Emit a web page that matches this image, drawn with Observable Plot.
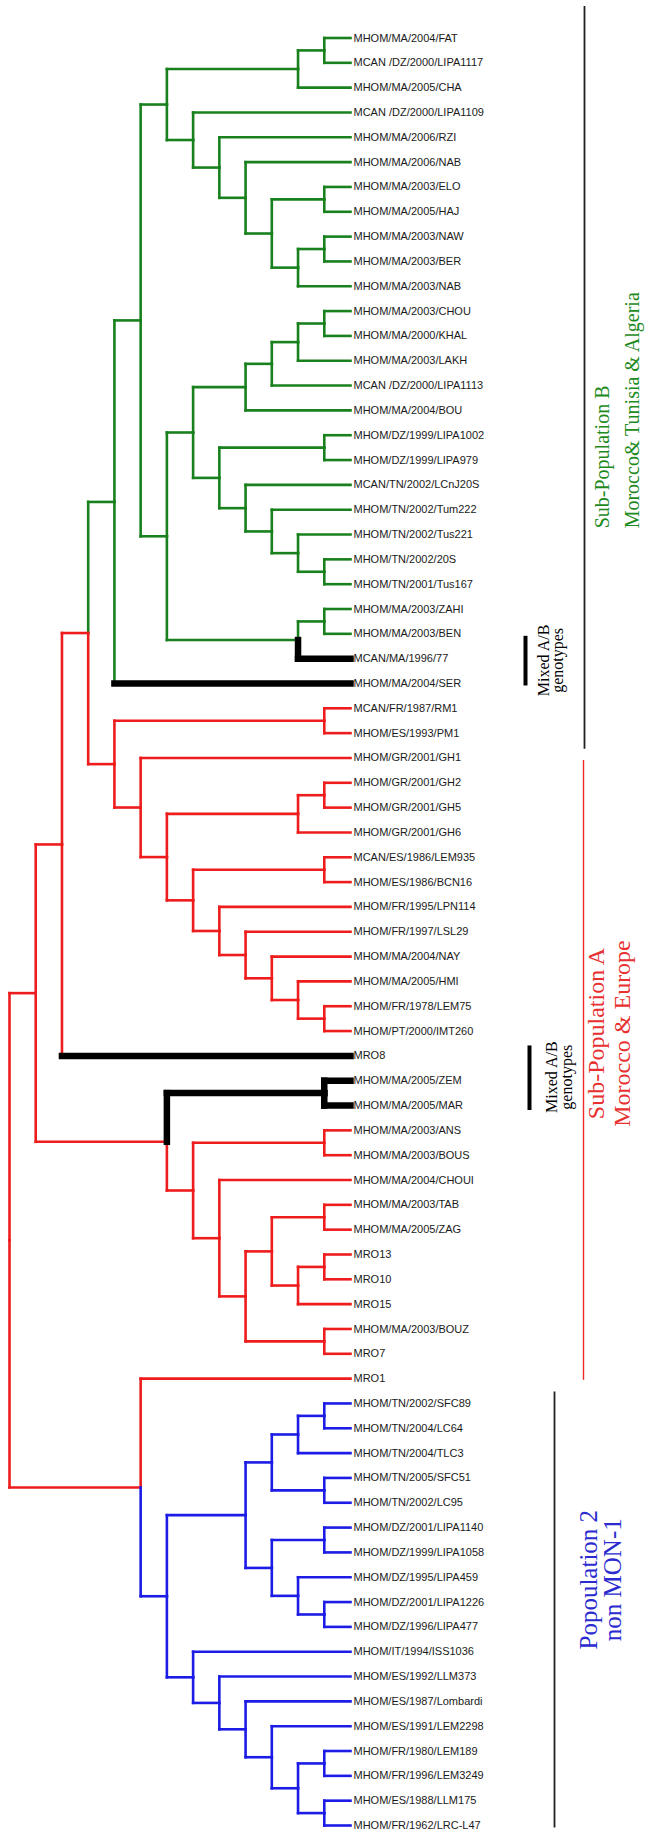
<!DOCTYPE html>
<html><head><meta charset="utf-8">
<script src="https://cdn.jsdelivr.net/npm/d3@7"></script>
<script src="https://cdn.jsdelivr.net/npm/@observablehq/plot@0.6"></script>
<style>html,body{margin:0;padding:0;background:#fff;overflow:hidden}</style>
</head><body><div id="chart"></div>
<script>
// Leaf labels, top to bottom
const labels = [
 "MHOM/MA/2004/FAT","MCAN /DZ/2000/LIPA1117","MHOM/MA/2005/CHA","MCAN /DZ/2000/LIPA1109","MHOM/MA/2006/RZI",
 "MHOM/MA/2006/NAB","MHOM/MA/2003/ELO","MHOM/MA/2005/HAJ","MHOM/MA/2003/NAW","MHOM/MA/2003/BER",
 "MHOM/MA/2003/NAB","MHOM/MA/2003/CHOU","MHOM/MA/2000/KHAL","MHOM/MA/2003/LAKH","MCAN /DZ/2000/LIPA1113",
 "MHOM/MA/2004/BOU","MHOM/DZ/1999/LIPA1002","MHOM/DZ/1999/LIPA979","MCAN/TN/2002/LCnJ20S","MHOM/TN/2002/Tum222",
 "MHOM/TN/2002/Tus221","MHOM/TN/2002/20S","MHOM/TN/2001/Tus167","MHOM/MA/2003/ZAHI","MHOM/MA/2003/BEN",
 "MCAN/MA/1996/77","MHOM/MA/2004/SER","MCAN/FR/1987/RM1","MHOM/ES/1993/PM1","MHOM/GR/2001/GH1",
 "MHOM/GR/2001/GH2","MHOM/GR/2001/GH5","MHOM/GR/2001/GH6","MCAN/ES/1986/LEM935","MHOM/ES/1986/BCN16",
 "MHOM/FR/1995/LPN114","MHOM/FR/1997/LSL29","MHOM/MA/2004/NAY","MHOM/MA/2005/HMI","MHOM/FR/1978/LEM75",
 "MHOM/PT/2000/IMT260","MRO8","MHOM/MA/2005/ZEM","MHOM/MA/2005/MAR","MHOM/MA/2003/ANS",
 "MHOM/MA/2003/BOUS","MHOM/MA/2004/CHOUI","MHOM/MA/2003/TAB","MHOM/MA/2005/ZAG","MRO13",
 "MRO10","MRO15","MHOM/MA/2003/BOUZ","MRO7","MRO1",
 "MHOM/TN/2002/SFC89","MHOM/TN/2004/LC64","MHOM/TN/2004/TLC3","MHOM/TN/2005/SFC51","MHOM/TN/2002/LC95",
 "MHOM/DZ/2001/LIPA1140","MHOM/DZ/1999/LIPA1058","MHOM/DZ/1995/LIPA459","MHOM/DZ/2001/LIPA1226","MHOM/DZ/1996/LIPA477",
 "MHOM/IT/1994/ISS1036","MHOM/ES/1992/LLM373","MHOM/ES/1987/Lombardi","MHOM/ES/1991/LEM2298","MHOM/FR/1980/LEM189",
 "MHOM/FR/1996/LEM3249","MHOM/ES/1988/LLM175","MHOM/FR/1962/LRC-L47"
];
// Group of each leaf: B = Sub-population B, A = Sub-population A, P = Population 2, X = mixed A/B genotype
const leafGroup = "BBBBBBBBBBBBBBBBBBBBBBBBBXXAAAAAAAAAAAAAAXXXAAAAAAAAAAAPPPPPPPPPPPPPPPPPP".split("");
// Leaves whose mixed marking covers the terminal branch only
const terminalOnly = [26, 41];
// Merges: [id, child a, child b, clustering level, group]
const merges = [
 ["g1",0,1,1,"B"],["g2","g1",2,2,"B"],["g3",6,7,1,"B"],["g4",8,9,1,"B"],["g5","g4",10,2,"B"],
 ["g6","g3","g5",3,"B"],["g7",5,"g6",4,"B"],["g8",4,"g7",5,"B"],["g9",3,"g8",6,"B"],["g10","g2","g9",7,"B"],
 ["h1",11,12,1,"B"],["h2","h1",13,2,"B"],["h3","h2",14,3,"B"],["h4","h3",15,4,"B"],
 ["h5",16,17,1,"B"],["h6",21,22,1,"B"],["h7",20,"h6",2,"B"],["h8",19,"h7",3,"B"],["h9",18,"h8",4,"B"],
 ["h10","h5","h9",5,"B"],["h11","h4","h10",6,"B"],["h12",23,24,1,"B"],["h13","h12",25,2,"B"],
 ["h14","h11","h13",7,"B"],["h15","g10","h14",8,"B"],["h16","h15",26,9,"B"],
 ["r1",27,28,1,"A"],["r2",30,31,1,"A"],["r3","r2",32,2,"A"],["r4",33,34,1,"A"],["r5",39,40,1,"A"],
 ["r6",38,"r5",2,"A"],["r7",37,"r6",3,"A"],["r8",36,"r7",4,"A"],["r9",35,"r8",5,"A"],["r10","r4","r9",6,"A"],
 ["r11","r3","r10",7,"A"],["r12",29,"r11",8,"A"],["r13","r1","r12",9,"A"],["r14","h16","r13",10,"A"],["r15","r14",41,11,"A"],
 ["s1",42,43,1,"X"],["s2",44,45,1,"A"],["s3",47,48,1,"A"],["s4",49,50,1,"A"],["s5","s4",51,2,"A"],["s6","s3","s5",3,"A"],
 ["s7",52,53,1,"A"],["s8","s6","s7",4,"A"],["s9",46,"s8",5,"A"],["s10","s2","s9",6,"A"],["s11","s1","s10",7,"A"],["s12","r15","s11",12,"A"],
 ["b1",55,56,1,"P"],["b2","b1",57,2,"P"],["b3",58,59,1,"P"],["b4","b2","b3",3,"P"],["b5",60,61,1,"P"],["b6",63,64,1,"P"],
 ["b7",62,"b6",2,"P"],["b8","b5","b7",3,"P"],["b9","b4","b8",4,"P"],["b10",69,70,1,"P"],["b11",71,72,1,"P"],["b12","b10","b11",2,"P"],
 ["b13",68,"b12",3,"P"],["b14",67,"b13",4,"P"],["b15",66,"b14",5,"P"],["b16",65,"b15",6,"P"],["b17","b9","b16",7,"P"],
 ["t1",54,"b17",8,"A"],["root","s12","t1",13,"A"]
];
// Annotation spans (in leaf rows)
const bracketRows = [[-1.27, 28.65], [29.1, 54.07], [54.54, 72.1]];
const mixedBarRows = [[24.1, 26.1], [40.6, 43.2]];
const mixedNoteRows = [25.07, 41.86];
const mixedNote = ["Mixed A/B", "genotypes"];
const groupTitles = [["Sub-Population B", "Morocco& Tunisia & Algeria"], ["Sub-Population A", "Morocco & Europe"], ["Popoulation 2", "non MON-1"]];
const groupTitleRows = [19.75, 40.1, 62.1];

// ---- styles ----
const style = {
  B: {stroke: "#18801c", w: 2.6},
  A: {stroke: "#ee1c1c", w: 2.6},
  P: {stroke: "#1c1ce6", w: 2.6},
  X: {stroke: "#000000", w: 6.5}
};

// ---- layout ----
const nodes = new Map();
labels.forEach((name, i) => nodes.set(i, {id: i, level: 0, row: i, group: leafGroup[i]}));
for (const [id, a, b, level, group] of merges) {
  const A = nodes.get(a), B = nodes.get(b);
  nodes.set(id, {id, level, row: (A.row + B.row) / 2, group, children: [A, B]});
}
const segs = [];
for (const n of nodes.values()) {
  if (!n.children) continue;
  for (const c of n.children) {
    const vg = terminalOnly.includes(c.id) ? n.group : c.group;
    segs.push({x1: n.level, y1: n.row, x2: n.level, y2: c.row, g: vg});
    segs.push({x1: n.level, y1: c.row, x2: c.level, y2: c.row, g: c.group});
  }
}
const leaves = labels.map((name, i) => ({name, row: i}));

const serif = "'Liberation Serif','Times New Roman',serif";
const marks = [];
for (const g of ["B", "A", "P", "X"]) {
  marks.push(Plot.link(segs.filter(s => s.g === g), {
    x1: "x1", y1: "y1", x2: "x2", y2: "y2",
    stroke: style[g].stroke, strokeWidth: style[g].w, strokeLinecap: "square"
  }));
}
marks.push(Plot.text(leaves, {
  x: () => 0, y: "row", text: "name", textAnchor: "start", dx: 3,
  fontSize: 11, fontFamily: "'Liberation Sans',Arial,sans-serif", fill: "#1a1a1a"
}));
// brackets
const bracketStyle = [
  {stroke: "#222", w: 1.8, dx: 234},
  {stroke: "#ee2a2a", w: 1.4, dx: 233},
  {stroke: "#222", w: 1.8, dx: 204}
];
bracketRows.forEach((r, i) => {
  marks.push(Plot.ruleX([r], {x: () => 0, y1: d => d[0], y2: d => d[1],
    stroke: bracketStyle[i].stroke, strokeWidth: bracketStyle[i].w, dx: bracketStyle[i].dx}));
});
const mixedDx = [[175, 198, 212], [179, 206, 221]];
mixedBarRows.forEach((r, i) => {
  marks.push(Plot.ruleX([r], {x: () => 0, y1: d => d[0], y2: d => d[1],
    stroke: "#000", strokeWidth: 4, dx: mixedDx[i][0]}));
  mixedNote.forEach((t, j) => {
    marks.push(Plot.text([t], {x: () => 0, y: () => mixedNoteRows[i], text: d => d,
      rotate: -90, textAnchor: "middle", lineAnchor: "bottom", dx: mixedDx[i][j + 1],
      fontSize: 16, fontFamily: serif, fill: "#000"}));
  });
});
const titleStyle = [
  {fill: "#1d8a1d", size: 20, anchor: "start", dx: [258, 288]},
  {fill: "#e83030", size: 24, anchor: "middle", dx: [253, 279]},
  {fill: "#2b2bd0", size: 25, anchor: "middle", dx: [246, 270]}
];
groupTitles.forEach((lines, i) => {
  lines.forEach((t, j) => {
    marks.push(Plot.text([t], {x: () => 0, y: () => groupTitleRows[i], text: d => d,
      rotate: -90, textAnchor: titleStyle[i].anchor, lineAnchor: "bottom", dx: titleStyle[i].dx[j],
      fontSize: titleStyle[i].size, fontFamily: serif, fill: titleStyle[i].fill}));
  });
});

const chart = Plot.plot({
  width: 654, height: 1837,
  margin: 0,
  x: {domain: [13, 0], range: [9, 350], axis: null},
  y: {domain: [0, 72], range: [37.5, 1825], axis: null},
  style: {background: "#fff"},
  marks
});
document.getElementById("chart").appendChild(chart);
</script>
</body></html>
